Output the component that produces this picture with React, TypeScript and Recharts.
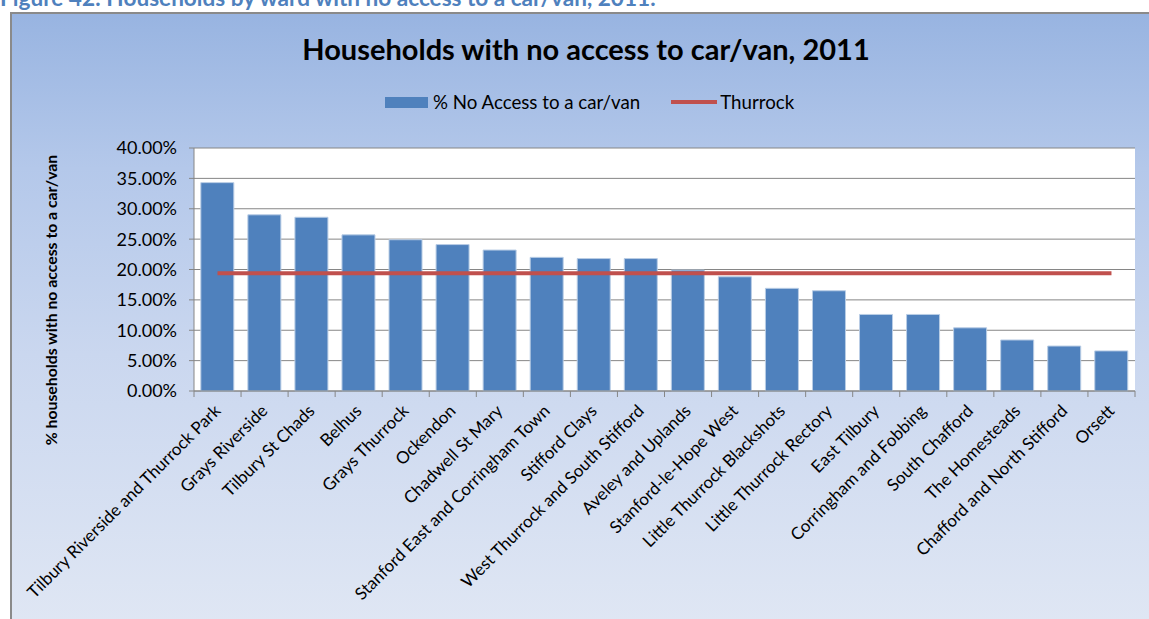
import React from 'react';
import { ComposedChart, Bar, Line, XAxis, YAxis, CartesianGrid } from 'recharts';

const wards = [
  'Tilbury Riverside and Thurrock Park',
  'Grays Riverside',
  'Tilbury St Chads',
  'Belhus',
  'Grays Thurrock',
  'Ockendon',
  'Chadwell St Mary',
  'Stanford East and Corringham Town',
  'Stifford Clays',
  'West Thurrock and South Stifford',
  'Aveley and Uplands',
  'Stanford-le-Hope West',
  'Little Thurrock Blackshots',
  'Little Thurrock Rectory',
  'East Tilbury',
  'Corringham and Fobbing',
  'South Chafford',
  'The Homesteads',
  'Chafford and North Stifford',
  'Orsett',
];

const noAccessPct = [34.3, 29.0, 28.6, 25.7, 24.9, 24.1, 23.2, 22.0, 21.8, 21.8, 19.9, 18.8, 16.9, 16.5, 12.6, 12.6, 10.4, 8.4, 7.4, 6.6];

const thurrockPct = 19.4;

const yTicks = [0, 5, 10, 15, 20, 25, 30, 35, 40];

const seriesNames = ['% No Access to a car/van', 'Thurrock'];

const data = wards.map((w, i) => ({ ward: w, pct: noAccessPct[i], thurrock: thurrockPct }));

const FONT = 'Lato, "Open Sans", "DejaVu Sans", sans-serif';
const BLUE = '#4F81BD';
const RED = '#C0504D';
const AXIS = '#868686';

function XTick(props: any) {
  const { x, y, payload, index, visibleTicksCount } = props;
  const off = payload && payload.offset ? payload.offset : 0;
  const isLast = index === visibleTicksCount - 1;
  const ax = x + 4;
  const ay = y + 21;
  return (
    <g>
      <line x1={x - off} x2={x - off} y1={y} y2={y + 6} stroke={AXIS} strokeWidth={1} />
      {isLast && <line x1={x + off} x2={x + off} y1={y} y2={y + 6} stroke={AXIS} strokeWidth={1} />}
      <text
        x={ax}
        y={ay}
        transform={`rotate(-45, ${ax}, ${ay})`}
        textAnchor="end"
        fontFamily={FONT}
        fontSize={17}
        fill="#000"
      >
        {payload.value}
      </text>
    </g>
  );
}

export default function App() {
  return (
    <div style={{ position: 'absolute', left: 0, top: 0, width: 1149, height: 619, overflow: 'hidden', background: '#fff' }}>
      <div
        style={{
          position: 'absolute',
          left: 0,
          top: -16,
          fontFamily: FONT,
          fontWeight: 700,
          fontSize: 22.6,
          color: BLUE,
          whiteSpace: 'nowrap',
        }}
      >
        Figure 42: Households by ward with no access to a car/van, 2011.
      </div>
      <div
        style={{
          position: 'absolute',
          left: 10,
          top: 12,
          width: 1200,
          height: 620,
          boxSizing: 'border-box',
          borderTop: '2px solid #8a8a8a',
          borderLeft: '2px solid #8a8a8a',
          background: 'linear-gradient(to bottom, #98B4E1 0%, #B4C8EA 25%, #CAD7EF 55%, #E0E7F4 100%)',
        }}
      />
      <div
        style={{
          position: 'absolute',
          left: 0,
          width: 1172,
          top: 31,
          textAlign: 'center',
          fontFamily: FONT,
          fontWeight: 700,
          fontSize: 29,
          color: '#000',
          whiteSpace: 'nowrap',
        }}
      >
        Households with no access to car/van, 2011
      </div>
      <div
        style={{
          position: 'absolute',
          left: 385,
          top: 91,
          display: 'flex',
          alignItems: 'center',
          fontFamily: FONT,
          fontSize: 18.7,
          color: '#000',
          whiteSpace: 'nowrap',
        }}
      >
        <span style={{ display: 'inline-block', width: 43, height: 11, background: BLUE, marginRight: 5 }} />
        <span>{seriesNames[0]}</span>
        <span style={{ display: 'inline-block', width: 46, height: 4, background: RED, marginLeft: 31, marginRight: 3 }} />
        <span>{seriesNames[1]}</span>
      </div>
      <div style={{ position: 'absolute', left: 0, top: 0 }}>
        <ComposedChart
          width={1149}
          height={619}
          data={data}
          margin={{ top: 148, right: 14, bottom: 0, left: 114 }}
          barCategoryGap="14.5%"
        >
          <CartesianGrid vertical={false} stroke={AXIS} strokeWidth={1} fill="#fff" fillOpacity={1} />
          <XAxis
            dataKey="ward"
            interval={0}
            height={228}
            tickSize={0}
            tickMargin={0}
            tick={<XTick />}
            axisLine={{ stroke: AXIS }}
          />
          <YAxis
            width={80}
            domain={[0, 40]}
            ticks={yTicks}
            interval={0}
            tickSize={5}
            tickMargin={12}
            tickLine={{ stroke: AXIS }}
            axisLine={{ stroke: AXIS }}
            tickFormatter={(v: number) => `${v.toFixed(2)}%`}
            tick={{ fontFamily: FONT, fontSize: 18, fill: '#000' }}
            label={{
              content: () => (
                <text
                  transform="translate(57, 300) rotate(-90)"
                  textAnchor="middle"
                  fontFamily={FONT}
                  fontWeight={700}
                  fontSize={15.8}
                  fill="#000"
                >
                  % households with no access to a car/van
                </text>
              ),
            }}
          />
          <Bar dataKey="pct" name={seriesNames[0]} fill={BLUE} stroke="#B9CDE5" strokeWidth={1} isAnimationActive={false} />
          <Line
            dataKey="thurrock"
            name={seriesNames[1]}
            stroke={RED}
            strokeWidth={4}
            dot={false}
            activeDot={false}
            isAnimationActive={false}
          />
        </ComposedChart>
      </div>
    </div>
  );
}
